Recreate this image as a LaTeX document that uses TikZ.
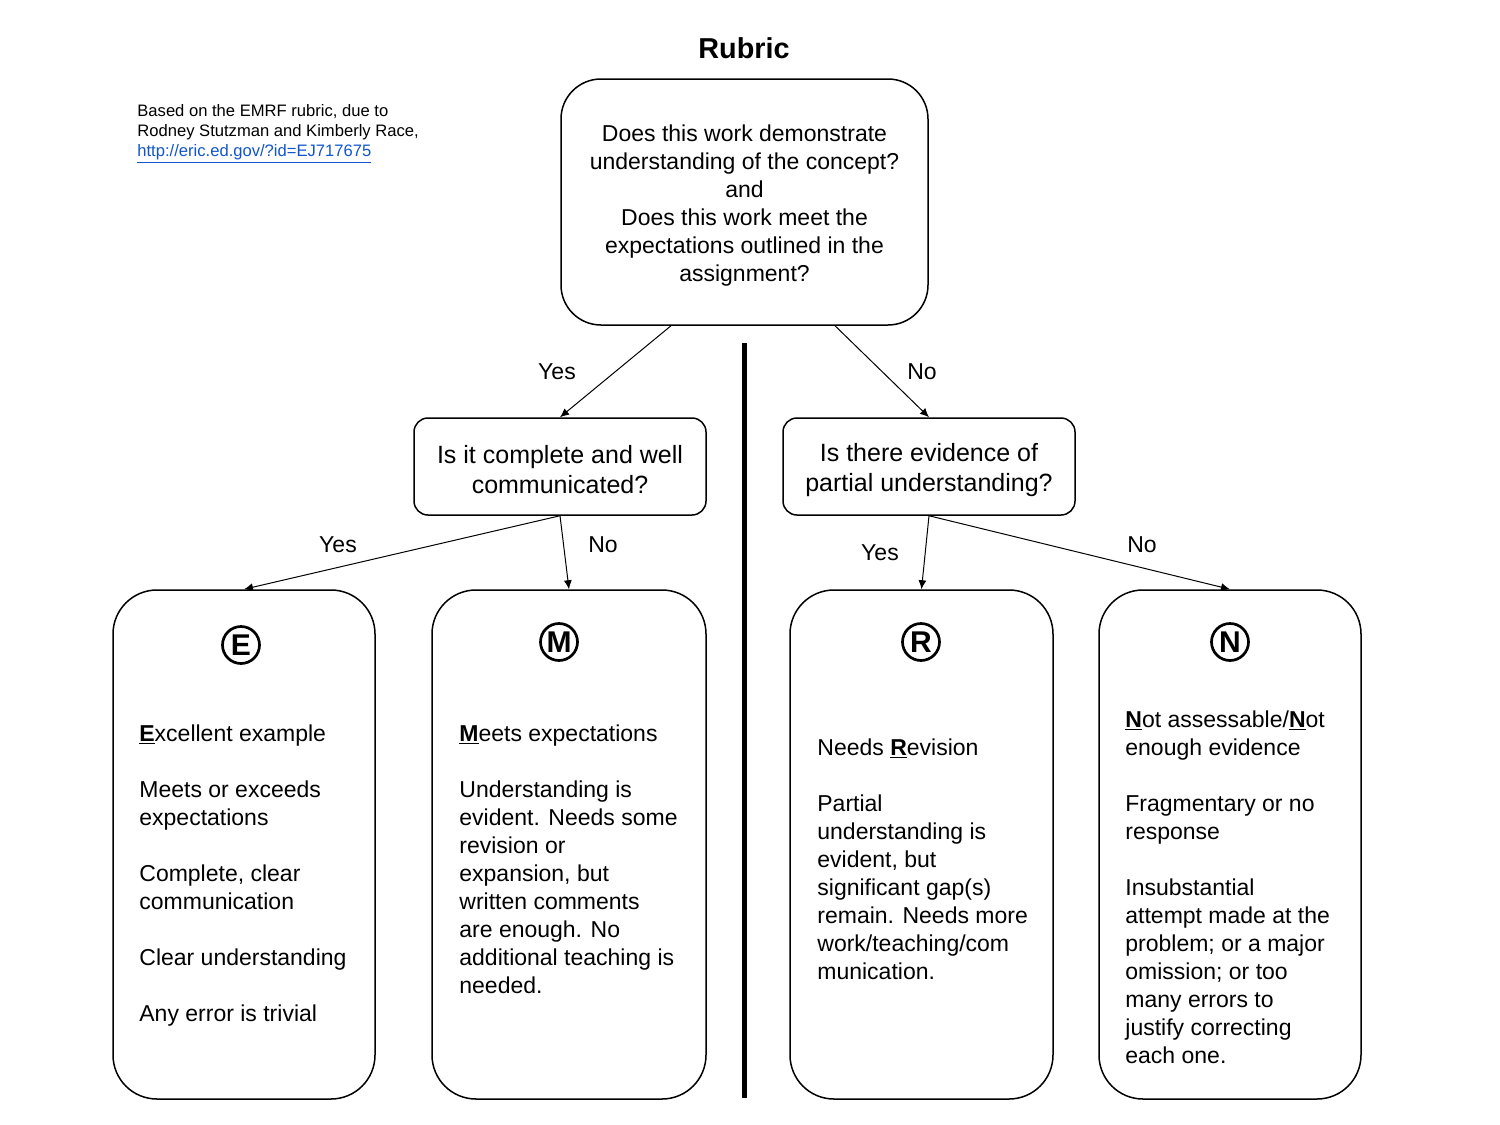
\documentclass[tikz,border=0pt]{standalone}
\usepackage{fontspec}
\setmainfont{Liberation Sans}
\usetikzlibrary{arrows.meta}
\definecolor{linkblue}{RGB}{17,85,204}

\tikzset{
  box/.style={draw, rounded corners=22pt, line width=0.75pt, minimum height=254.5pt, inner sep=0pt},
  question/.style={draw, rounded corners=7pt, line width=0.75pt, align=center, font=\fontsize{12.5}{15}\selectfont, minimum width=146pt, minimum height=48.5pt, inner sep=0pt},
  grade/.style={circle, draw, line width=1.35pt, minimum size=18.5pt, inner sep=0pt, font=\bfseries\fontsize{15}{15}\selectfont},
  body/.style={anchor=north west, align=left, inner sep=0pt, font=\fontsize{11.5}{14}\selectfont},
  answer/.style={inner sep=0pt, font=\fontsize{11.5}{14}\selectfont},
  arrow/.style={-{Latex[length=4.5pt,width=4pt]}, line width=0.5pt},
}

\begin{document}
\begin{tikzpicture}[x=0.5pt, y=-0.5pt]
   \useasboundingbox (0,0) rectangle (1500,1125);

   % title and source
   \node[font=\bfseries\fontsize{14.4}{16}\selectfont] (title) at (744,48) {Rubric};
   \node[anchor=north west, align=left, inner sep=0pt, font=\fontsize{8.3}{10}\selectfont] (source) at (137,104)
     {Based on the EMRF rubric, due to\\ Rodney Stutzman and Kimberly Race,\\ {\color{linkblue}\underline{http://eric.ed.gov/?id=EJ717675}}};

   % questions
   \node[draw, rounded corners=20pt, line width=0.75pt, align=center, minimum width=183.5pt, minimum height=123pt,
         inner sep=0pt, font=\fontsize{11.5}{14}\selectfont] (top) at (744.5,202)
     {\rule{0pt}{11.5pt}Does this work demonstrate\\ understanding of the concept?\\ and\\ Does this work meet the\\ expectations outlined in the\\ assignment?};
   \node[question] (qyes) at (560,466.5) {\rule{0pt}{12.6pt}Is it complete and well\\ communicated?};
   \node[question] (qno) at (929,466.5) {\rule{0pt}{12.6pt}Is there evidence of\\ partial understanding?};

   % divider
   \draw[line width=2.5pt] (744,343) -- (744,1098);

   % grade boxes
   \node[box, minimum width=131pt] (eBox) at (244,844.5) {};
   \node[box, minimum width=137pt] (mBox) at (569,844.5) {};
   \node[box, minimum width=131.5pt] (rBox) at (921.5,844.5) {};
   \node[box, minimum width=131pt] (nBox) at (1230,844.5) {};

   \node[grade] (eMark) at (241,645) {E};
   \node[grade] (mMark) at (559,642) {M};
   \node[grade] (rMark) at (921,642) {R};
   \node[grade] (nMark) at (1230,642) {N};

   \node[body] (eText) at (139,724)
     {\underline{\textbf{E}}xcellent example\\[14pt] Meets or exceeds\\ expectations\\[14pt] Complete, clear\\ communication\\[14pt]
      Clear understanding\\[14pt] Any error is trivial};
   \node[body] (mText) at (459,724)
     {\underline{\textbf{M}}eets expectations\\[14pt] Understanding is\\ evident. Needs some\\ revision or\\ expansion, but\\
      written comments\\ are enough. No\\ additional teaching is\\ needed.};
   \node[body] (rText) at (817,738)
     {Needs \underline{\textbf{R}}evision\\[14pt] Partial\\ understanding is\\ evident, but\\ significant gap(s)\\
      remain. Needs more\\ work/teaching/com\\ munication.};
   \node[body] (nText) at (1125,710)
     {\underline{\textbf{N}}ot assessable/\underline{\textbf{N}}ot\\ enough evidence\\[14pt] Fragmentary or no\\ response\\[14pt]
      Insubstantial\\ attempt made at the\\ problem; or a major\\ omission; or too\\ many errors to\\ justify correcting\\ each one.};

   % connectors
   \draw[arrow] ([xshift=-36.75pt]top.south) -- (qyes.north);
   \draw[arrow] ([xshift=45.25pt]top.south) -- (qno.north);
   \draw[arrow] (qyes.south) -- (eBox.north);
   \draw[arrow] (qyes.south) -- (mBox.north);
   \draw[arrow] (qno.south) -- (rBox.north);
   \draw[arrow] (qno.south) -- (nBox.north);

   \node[answer] (yes1) at (557,372) {Yes};
   \node[answer] (no1) at (922,372) {No};
   \node[answer] (yes2) at (338,545) {Yes};
   \node[answer] (no2) at (603,545) {No};
   \node[answer] (yes3) at (880,553) {Yes};
   \node[answer] (no3) at (1142,545) {No};
\end{tikzpicture}
\end{document}
